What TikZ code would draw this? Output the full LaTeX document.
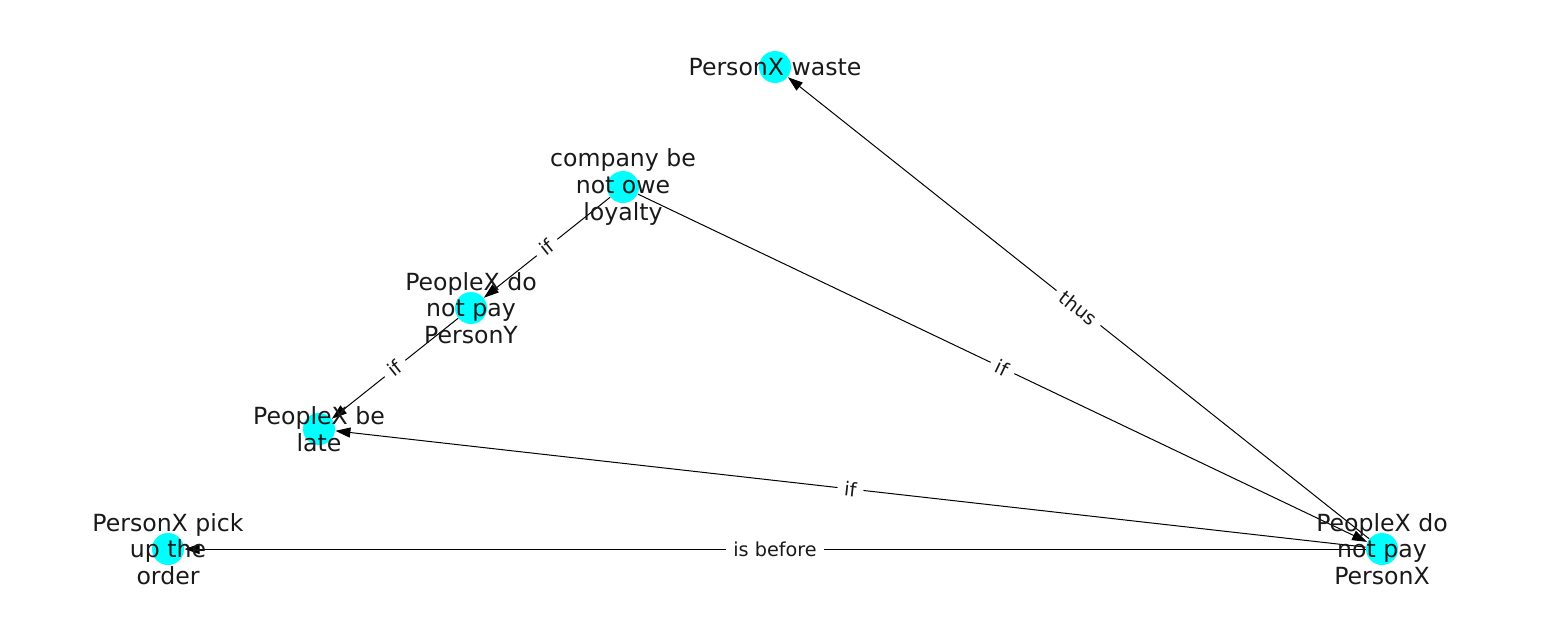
\documentclass[tikz,border=0pt]{standalone}
\usepackage{fontspec}
\setmainfont{DejaVu Sans}
\usepackage{xcolor}
\definecolor{colorNode}{RGB}{0,255,255}
\colorlet{colorText}{black!90}
\usetikzlibrary{arrows.meta, positioning}
\tikzset{dot/.style={circle, fill=colorNode, minimum size=32pt, inner sep=0pt},
  txt/.style={text=colorText, align=center, font=\fontsize{23.6}{26.8}\selectfont},
  rel/.style={fill=white, text=colorText, inner sep=7pt, font=\fontsize{19.2}{22}\selectfont, sloped}}

\begin{document}
\begin{tikzpicture}[x=1pt, y=-1pt, >={Triangle[length=15pt,width=10pt]}, line width=1pt]
\useasboundingbox (0,0) rectangle (1550,616);
\node[dot] (waste) at (775,67) {};
\node[dot] (owe) at (623,187) {};
\node[dot] (payY) at (471,308) {};
\node[dot] (late) at (319,429) {};
\node[dot] (pick) at (168,549) {};
\node[dot] (payX) at (1382,549) {};
\draw [->] (payX) edge node [rel]{thus} (waste);
\draw [->] (owe) edge node [rel]{if} (payX);
\draw [->] (owe) edge node [rel]{if} (payY);
\draw [->] (payY) edge node [rel]{if} (late);
\draw [->] (payX) edge node [rel]{if} (late);
\draw [->] (payX) edge node [rel]{is before} (pick);
\node[txt] at (waste) {PersonX waste};
\node[txt] at (owe) {company be\\not owe\\loyalty};
\node[txt] at (payY) {PeopleX do\\not pay\\PersonY};
\node[txt] at (late) {PeopleX be\\late};
\node[txt] at (pick) {PersonX pick\\up the\\order};
\node[txt] at (payX) {PeopleX do\\not pay\\PersonX};
\end{tikzpicture}
\end{document}
